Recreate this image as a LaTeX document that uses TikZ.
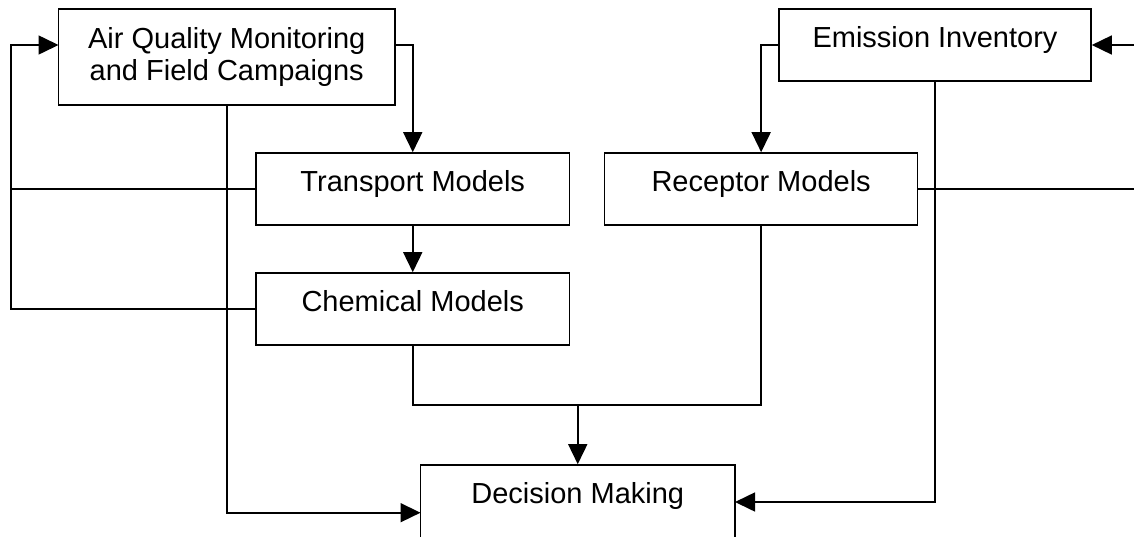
\documentclass[tikz,border=0pt]{standalone}
\usepackage{fontspec}
\setmainfont{Liberation Sans}
\usetikzlibrary{arrows.meta,calc}
\tikzset{
  boxnode/.style={draw, line width=1.6pt, inner sep=0pt, anchor=center,
    font=\fontsize{29}{32}\selectfont, align=center},
  conn/.style={line width=1.6pt},
  arr/.style={conn, -{Triangle[length=20pt,width=19pt]}}
}
\begin{document}
\begin{tikzpicture}[x=1pt,y=-1pt]
\useasboundingbox (0,0) rectangle (1134,536);
\clip (0,0) rectangle (1134,536);
% boxes
\node[boxnode, minimum width=336.5pt, minimum height=96pt, text height=71pt, text depth=25pt]
  (aqm) at (226.75,57) {Air Quality Monitoring\\and Field Campaigns};
\node[boxnode, minimum width=312pt, minimum height=72pt, text height=38pt, text depth=34pt]
  (em) at (935,45) {Emission Inventory};
\node[boxnode, minimum width=313.5pt, minimum height=72pt, text height=38.5pt, text depth=33.5pt]
  (tr) at (412.75,189) {Transport Models};
\node[boxnode, minimum width=313pt, minimum height=72pt, text height=38.5pt, text depth=33.5pt]
  (rc) at (761.15,189) {Receptor Models};
\node[boxnode, minimum width=313.5pt, minimum height=72pt, text height=38.5pt, text depth=33.5pt]
  (ch) at (412.75,309) {Chemical Models};
\node[boxnode, minimum width=314.5pt, minimum height=100pt, text height=38pt, text depth=62pt]
  (dm) at (577.75,515) {Decision Making};
% helper coordinates
\coordinate (L) at (10.7,0);
\coordinate (aqmL) at (58.5,45);
\coordinate (aqmR) at (395,45);
\coordinate (rE) at (1134,45);
\coordinate (dmL) at (420.5,512.7);
\coordinate (dmR) at (735,502);
\coordinate (J) at (577.75,405);
% connectors
\draw[arr] (ch.west) -- (ch.west -| L) |- (aqmL);
\draw[conn] (tr.west) -- (tr.west -| L);
\draw[arr] (aqmR) -| (tr.north);
\draw[arr] (tr.south) -- (ch.north);
\draw[arr] (aqm.south) |- (dmL);
\draw[arr] (em.west) -| (rc.north);
\draw[arr] (rE) -- (em.east);
\draw[conn] (rc.east) -- (rc.east -| rE);
\draw[arr] (em.south) |- (dmR);
\draw[conn] (ch.south) |- (J) -| (rc.south);
\draw[arr] (J) -- (dm.north);
\end{tikzpicture}
\end{document}
